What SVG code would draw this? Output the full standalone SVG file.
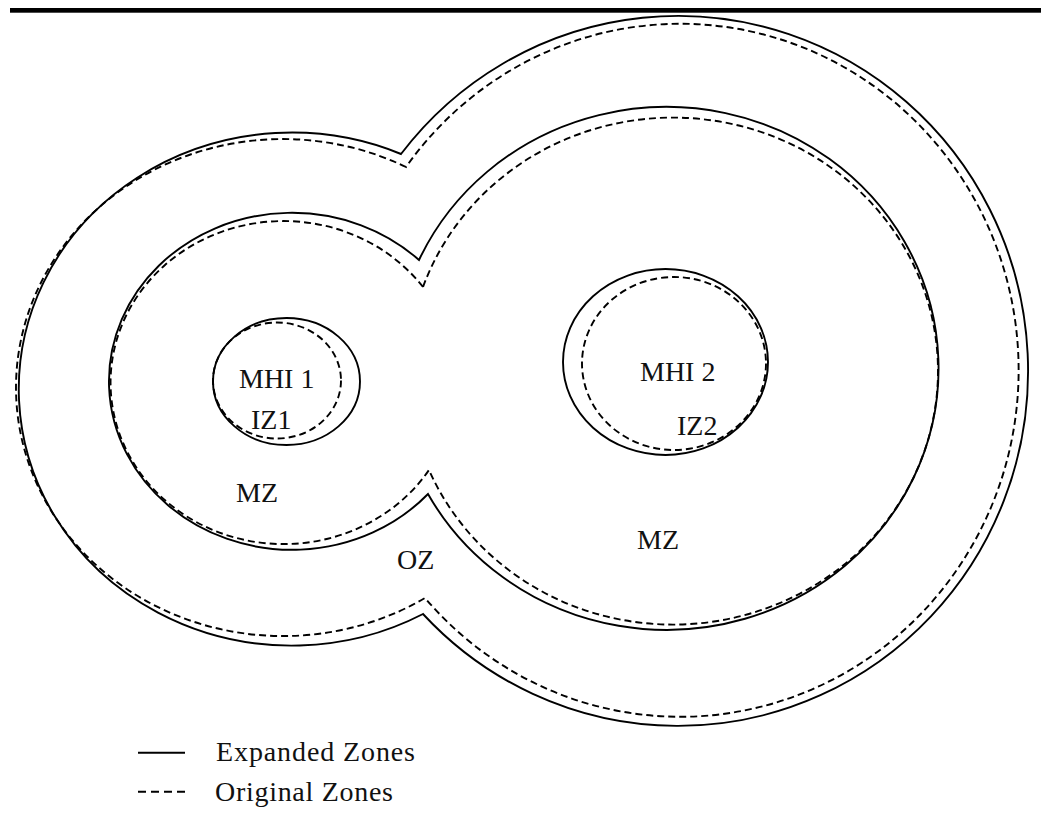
<svg xmlns="http://www.w3.org/2000/svg" width="1041" height="823" viewBox="0 0 1041 823">
  <style>
    .exp { fill: none; stroke: #000; stroke-width: 1.9; }
    .orig { fill: none; stroke: #000; stroke-width: 1.9; stroke-dasharray: 7 4; }
    .lbl { font-family: "Liberation Serif", "Times New Roman", serif; font-size: 28px; fill: #111; }
  </style>

  <!-- header rule -->
  <rect x="10" y="8" width="1031" height="4.7" fill="#000"/>

  <!-- outer zone: union of the two outer ellipses -->
  <g id="outer-zone">
    <path class="orig" d="M406,167 A267,248.5 0 1 0 425,598 A338.5,346.5 0 1 0 406,167 Z"/>
    <path class="exp" d="M401,154 A273,256.5 0 1 0 423,614 A350,355 0 1 0 401,154 Z"/>
  </g>

  <!-- middle zone: union of the two middle ellipses -->
  <g id="middle-zone">
    <path class="orig" d="M423,287 A173,161.5 0 1 0 429,470 A265,253.5 0 1 0 423,287 Z"/>
    <path class="exp" d="M419,260 A183,168.5 0 1 0 428,494 A272,261.5 0 1 0 419,260 Z"/>
  </g>

  <!-- inner zone around MHI 1 -->
  <g id="inner-zone-1">
    <ellipse class="orig" cx="277" cy="380.5" rx="64" ry="58"/>
    <ellipse class="exp" cx="286.5" cy="381.5" rx="73.5" ry="63.5"/>
  </g>

  <!-- inner zone around MHI 2 -->
  <g id="inner-zone-2">
    <ellipse class="orig" cx="674" cy="363.5" rx="92" ry="86.5"/>
    <ellipse class="exp" cx="665.5" cy="362" rx="102.5" ry="93"/>
  </g>

  <!-- zone labels -->
  <g id="labels">
    <text class="lbl" x="239" y="388">MHI 1</text>
    <text class="lbl" x="251" y="429">IZ1</text>
    <text class="lbl" x="640" y="381">MHI 2</text>
    <text class="lbl" x="677" y="435">IZ2</text>
    <text class="lbl" x="236" y="502">MZ</text>
    <text class="lbl" x="397" y="569">OZ</text>
    <text class="lbl" x="637" y="549">MZ</text>
  </g>

  <!-- legend -->
  <g id="legend">
    <line x1="138" y1="752.7" x2="185" y2="752.7" stroke="#000" stroke-width="2"/>
    <line x1="138" y1="791.7" x2="185" y2="791.7" stroke="#000" stroke-width="2" stroke-dasharray="8 5"/>
    <text class="lbl" x="216" y="761" textLength="199" lengthAdjust="spacing">Expanded Zones</text>
    <text class="lbl" x="215" y="801" textLength="178" lengthAdjust="spacing">Original Zones</text>
  </g>

  <g id="connectors"/>
</svg>
